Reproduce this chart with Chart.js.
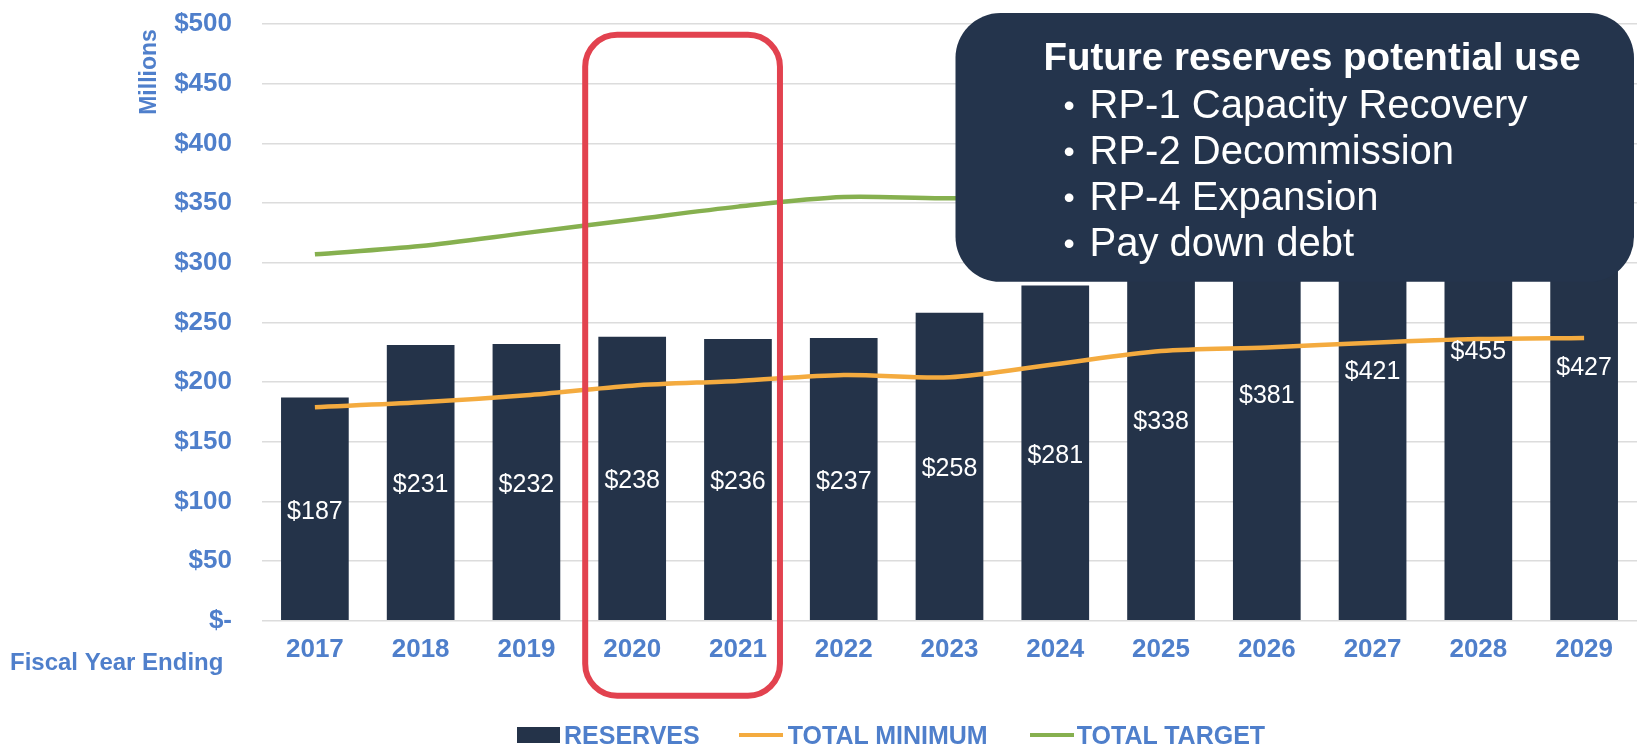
<!DOCTYPE html>
<html>
<head>
<meta charset="utf-8">
<script src="https://cdn.jsdelivr.net/npm/chart.js@4"></script>
<style>
  body { margin: 0; background: #fff; }
  #wrap { position: relative; width: 1637px; height: 752px; }
  #legend {
    position: absolute; left: 517px; top: 720px; display: flex; align-items: center;
    font: bold 25px "Liberation Sans", Arial, sans-serif; color: #4f7fcb; line-height: 30px;
  }
  #legend .sq { width: 43px; height: 16px; background: #243349; margin-right: 4px; }
  #legend .ln { width: 44px; height: 4px; margin-right: 5px; }
</style>
</head>
<body>
<div id="wrap">
  <canvas id="reserveChart" width="1637" height="752"></canvas>
  <div id="legend">
    <span class="sq"></span><span>RESERVES</span>
    <span class="ln" style="background:#f4ab3f; margin-left:39px"></span><span>TOTAL MINIMUM</span>
    <span class="ln" style="background:#86b04f; margin-left:42px; margin-right:3px"></span><span>TOTAL TARGET</span>
  </div>
</div>
<script>
// data ($ millions)
const years = ["2017", "2018", "2019", "2020", "2021", "2022", "2023", "2024", "2025", "2026", "2027", "2028", "2029"];
const reserves = [187, 231, 232, 238, 236, 237, 258, 281, 338, 381, 421, 455, 427];
const totalMinimum = [179, 183, 189, 197, 201, 206, 204, 215, 226, 229, 233, 236, 237];
// target after 2023 is hidden behind the callout box, rough guess
const totalTarget = [307, 314, 325, 336, 347, 355, 354, 358, 362, 366, 370, 374, 376];
const yTicks = [0, 50, 100, 150, 200, 250, 300, 350, 400, 450, 500];

const calloutTitle = "Future reserves potential use";
const calloutItems = ["RP-1 Capacity Recovery", "RP-2 Decommission", "RP-4 Expansion", "Pay down debt"];

const BLUE = "#4f7fcb";
const NAVY = "#243349";
const FONT = '"Liberation Sans", Arial, sans-serif';

function roundRect(ctx, x, y, w, h, r) {
  ctx.beginPath();
  ctx.moveTo(x + r, y);
  ctx.arcTo(x + w, y, x + w, y + h, r);
  ctx.arcTo(x + w, y + h, x, y + h, r);
  ctx.arcTo(x, y + h, x, y, r);
  ctx.arcTo(x, y, x + w, y, r);
  ctx.closePath();
}

const extras = {
  id: "extras",
  afterDatasetsDraw(chart) {
    const { ctx, chartArea, scales: { x, y } } = chart;
    ctx.save();

    // callout box over the upper right
    const bx = x.getPixelForValue(6) + 6;
    const by = chartArea.top - 11;
    const bw = chart.width - 3 - bx;
    const bh = y.getPixelForValue(284) - by;
    ctx.fillStyle = "#24344c";
    roundRect(ctx, bx, by, bw, bh, 45);
    ctx.fill();

    ctx.fillStyle = "#ffffff";
    ctx.textBaseline = "middle";
    ctx.textAlign = "left";
    ctx.font = "bold 38.5px " + FONT;
    ctx.fillText(calloutTitle, bx + 88, by + 46);
    calloutItems.forEach((t, i) => {
      const ly = by + 94 + i * 46;
      ctx.font = "32px " + FONT;
      ctx.fillText("\u2022", bx + 108, ly);
      ctx.font = "40px " + FONT;
      ctx.fillText(t, bx + 134, ly);
    });

    // bar value labels
    const meta = chart.getDatasetMeta(0);
    ctx.font = "25px " + FONT;
    ctx.textAlign = "center";
    meta.data.forEach((bar, i) => {
      ctx.fillText("$" + reserves[i], bar.x, (bar.y + bar.base) / 2 + 3);
    });
    ctx.restore();
  },
  afterDraw(chart) {
    const { ctx, scales: { x, y } } = chart;
    ctx.save();
    // red highlight round 2020-2021
    const left = x.getPixelForValue(3) - 47;
    const right = x.getPixelForValue(4) + 42;
    const top = y.getPixelForValue(491);
    const bottom = y.getPixelForValue(0) + 75;
    ctx.strokeStyle = "#e2424f";
    ctx.lineWidth = 6;
    roundRect(ctx, left, top, right - left, bottom - top, 32);
    ctx.stroke();

    ctx.fillStyle = BLUE;
    ctx.font = "bold 24px " + FONT;
    ctx.textBaseline = "middle";
    ctx.textAlign = "left";
    ctx.fillText("Fiscal Year Ending", 10, y.getPixelForValue(0) + 43);

    ctx.translate(150, 72);
    ctx.rotate(-Math.PI / 2);
    ctx.textAlign = "center";
    ctx.font = "bold 23px " + FONT;
    ctx.fillText("Millions", 0, 0);
    ctx.restore();
  }
};

new Chart(document.getElementById("reserveChart"), {
  type: "bar",
  data: {
    labels: years,
    datasets: [
      {
        label: "RESERVES",
        data: reserves,
        backgroundColor: NAVY,
        barPercentage: 0.64,
        categoryPercentage: 1,
        order: 3
      },
      {
        type: "line",
        label: "TOTAL MINIMUM",
        data: totalMinimum,
        borderColor: "#f4ab3f",
        borderWidth: 4.5,
        pointRadius: 0,
        tension: 0.3,
        order: 1
      },
      {
        type: "line",
        label: "TOTAL TARGET",
        data: totalTarget,
        borderColor: "#86b04f",
        borderWidth: 4.5,
        pointRadius: 0,
        tension: 0.3,
        order: 2
      }
    ]
  },
  options: {
    responsive: false,
    animation: false,
    layout: { padding: { top: 24, right: 0, bottom: 74, left: 0 } },
    plugins: {
      legend: { display: false },
      tooltip: { enabled: false }
    },
    scales: {
      x: {
        grid: { display: false, drawTicks: false },
        border: { display: false },
        ticks: { color: BLUE, font: { family: FONT, size: 26, weight: "bold" }, padding: 13 }
      },
      y: {
        min: 0,
        max: 500,
        afterFit(scale) {
          scale.width = 262;
          scale.paddingTop = 0;
          scale.paddingBottom = 0;
        },
        afterBuildTicks(scale) { scale.ticks = yTicks.map(v => ({ value: v })); },
        grid: { color: "#dcdcdc", lineWidth: 1.5, drawTicks: false },
        border: { display: false },
        ticks: {
          color: BLUE,
          font: { family: FONT, size: 26, weight: "bold" },
          padding: 30,
          callback: v => v === 0 ? "$-" : "$" + v
        }
      }
    }
  },
  plugins: [extras]
});
</script>
</body>
</html>
